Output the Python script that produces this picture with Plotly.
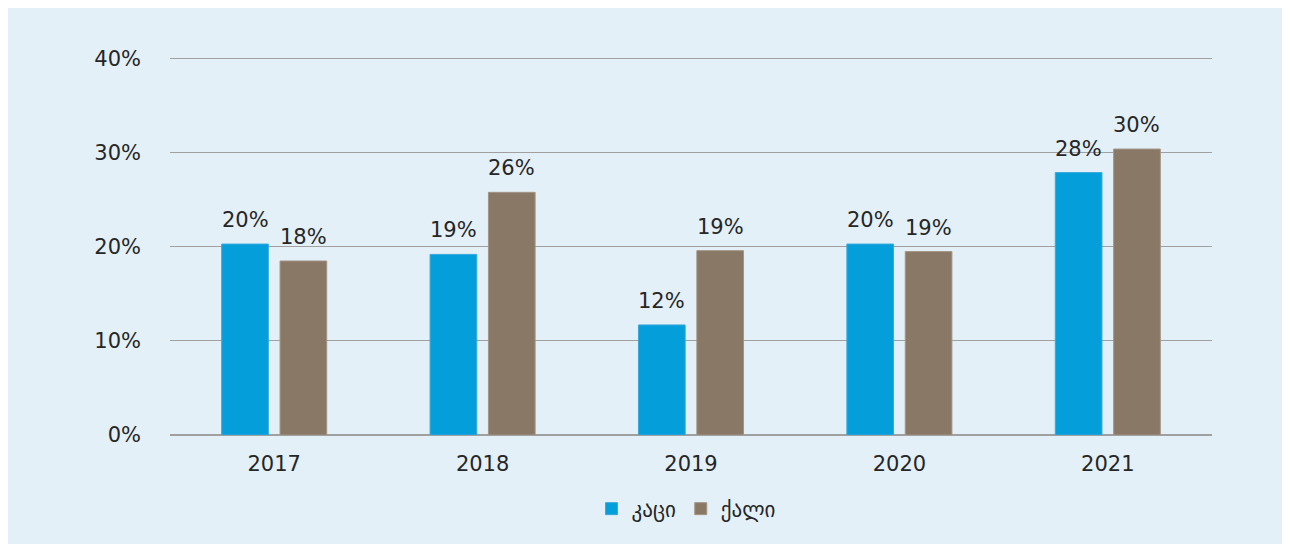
import plotly.graph_objects as go

years = ["2017", "2018", "2019", "2020", "2021"]
men = [0.203, 0.192, 0.117, 0.203, 0.279]
women = [0.185, 0.258, 0.196, 0.195, 0.304]
men_labels = ["20%", "19%", "12%", "20%", "28%"]
women_labels = ["18%", "26%", "19%", "19%", "30%"]
series_names = ["კაცი", "ქალი"]

FONT = "DejaVu Sans"
FS = 21
TXT = "#262626"
W, H = 1300, 544
YMAX = 0.404
L, T = 162, 47
PW, PH = 1042, 380
R, B = W - L - PW, H - T - PH
BARGAP, GROUPGAP = 0.44, 0.2

fig = go.Figure()
fig.add_trace(go.Bar(x=years, y=men, name=series_names[0], marker_color="#049fda",
                     marker_line=dict(color="#3aa8dc", width=1)))
fig.add_trace(go.Bar(x=years, y=women, name=series_names[1], marker_color="#8a7866",
                     marker_line=dict(color="#a39585", width=1)))

# value labels above bars
slot = PW / len(years) * (1 - BARGAP) / 2
for vals, labels, sign in [(men, men_labels, -1), (women, women_labels, 1)]:
    for i, (v, lab) in enumerate(zip(vals, labels)):
        fig.add_annotation(x=i, y=v, text=lab, showarrow=False, yanchor="bottom",
                           xshift=sign * slot / 2, yshift=10,
                           font=dict(size=FS, family=FONT, color=TXT))

fig.update_layout(
    width=W, height=H,
    margin=dict(l=L, r=R, t=T, b=B),
    paper_bgcolor="#e4f0f8", plot_bgcolor="rgba(0,0,0,0)",
    barmode="group", bargap=BARGAP, bargroupgap=GROUPGAP,
    font=dict(family=FONT, size=FS, color=TXT),
    showlegend=True,
    legend=dict(orientation="h", x=(678 - L) / PW, xanchor="center",
                y=(T + PH - 501) / PH, yanchor="middle",
                font=dict(size=FS, family=FONT, color=TXT),
                itemwidth=30, bgcolor="rgba(0,0,0,0)"),
)
fig.update_xaxes(type="category", showgrid=False, showline=True, linecolor="#a0a0a0",
                 linewidth=1, ticks="", ticklabelstandoff=10,
                 tickfont=dict(size=FS, family=FONT, color=TXT))
fig.update_yaxes(range=[0, YMAX], tickvals=[0, 0.1, 0.2, 0.3, 0.4], tickformat=".0%",
                 showgrid=True, gridcolor="#a0a0a0", gridwidth=1,
                 zeroline=True, zerolinecolor="#a0a0a0",
                 showline=False, ticks="", ticklabelstandoff=28,
                 tickfont=dict(size=FS, family=FONT, color=TXT))

fig.write_html("out.html",
               post_script="document.documentElement.style.overflow='hidden';"
                           "document.body.style.overflow='hidden';")
